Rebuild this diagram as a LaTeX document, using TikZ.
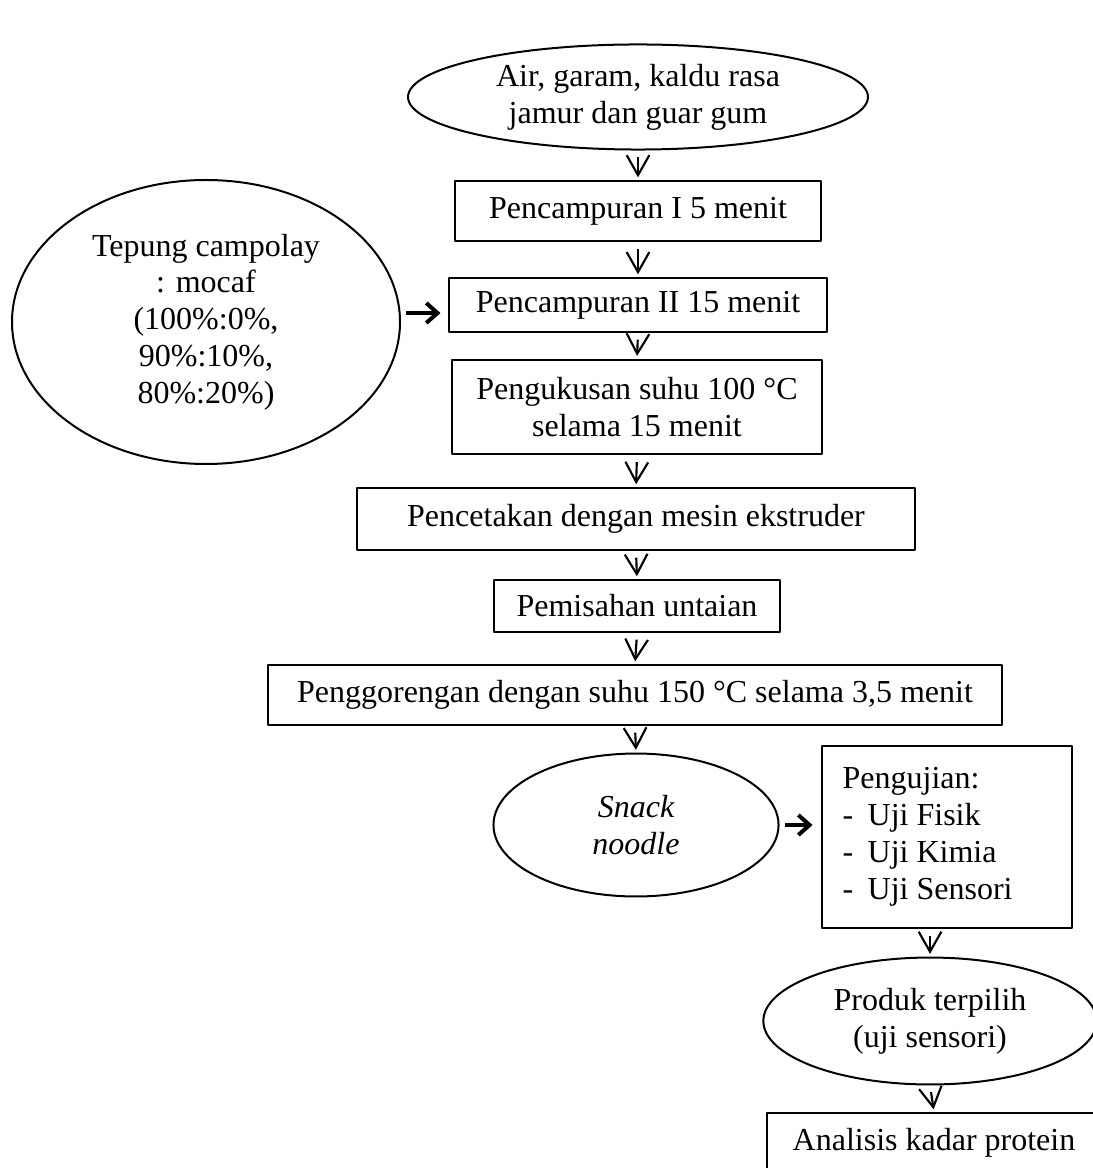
\documentclass[tikz,border=0pt]{standalone}
\usepackage{fontspec}
\setmainfont{Liberation Serif}
\usetikzlibrary{shapes.geometric,arrows.meta}
\tikzset{
  box/.style={draw,line width=.75pt,rectangle,inner sep=0pt,align=center},
  oval/.style={draw,line width=.75pt,ellipse,inner sep=0pt,align=center},
  darr/.style={line width=.8pt,shorten <=2.5pt,shorten >=1pt,-{Straight Barb[length=7.5pt,width=8.5pt]}},
  rarr/.style={line width=1.5pt,shorten <=2pt,shorten >=3pt,-{Straight Barb[length=4.2pt,width=7.5pt]}}
}
\newcommand{\ujiitem}[1]{\makebox[9.4pt][l]{-}#1}
\begin{document}
\begin{tikzpicture}[x=.375pt,y=-.375pt,font=\fontsize{12pt}{13.8pt}\selectfont,line join=round]
  \useasboundingbox (0,0) rectangle (1093,1168);
  \clip (0,0) rectangle (1093,1168);
  % main column
  \node[oval,minimum width=172.5pt,minimum height=39.4pt] (air) at (638,97) {Air, garam, kaldu rasa\\ jamur dan guar gum};
  \node[box,minimum width=137.6pt,minimum height=22.5pt] (p1) at (638,211) {Pencampuran I 5 menit};
  \node[box,minimum width=141.4pt,minimum height=20.3pt] (p2) at (638,305) {Pencampuran II 15 menit};
  \node[box,minimum width=138.8pt,minimum height=35.6pt] (kus) at (637,407) {Pengukusan suhu 100 °C\\ selama 15 menit};
  \node[box,minimum width=209.6pt,minimum height=23.3pt] (cetak) at (636,519) {Pencetakan dengan mesin ekstruder};
  \node[box,minimum width=107.3pt,minimum height=19.5pt] (pisah) at (637,606) {Pemisahan untaian};
  \node[box,minimum width=275.6pt,minimum height=22.5pt] (goreng) at (635,695) {Penggorengan dengan suhu 150 °C selama 3,5 menit};
  \node[oval,minimum width=106.9pt,minimum height=53.6pt] (snack) at (636,825) {\itshape Snack\\ \itshape noodle};
  % side nodes
  \node[oval,minimum width=145.5pt,minimum height=106.5pt] (tepung) at (206,322) {Tepung campolay\\ : mocaf\\ (100\%:0\%,\\ 90\%:10\%,\\ 80\%:20\%)};
  \node[box,align=flush left,text width=78.3pt,inner xsep=7.9pt,minimum height=68.6pt] (uji) at (947,837)
    {Pengujian:\\ \ujiitem{Uji Fisik}\\ \ujiitem{Uji Kimia}\\ \ujiitem{Uji Sensori}};
  \node[oval,minimum width=125pt,minimum height=47.6pt] (produk) at (930,1021) {Produk terpilih\\ (uji sensori)};
  \node[box,minimum width=125pt,minimum height=22.5pt] (protein) at (934,1143) {Analisis kadar protein};
  % arrows
  \foreach \a/\b in {air/p1,p1/p2,p2/kus,kus/cetak,cetak/pisah,pisah/goreng,goreng/snack,produk/protein}
    \draw[darr] (\a.south) -- (\b.north);
  \draw[darr] (produk.north |- uji.south) -- (produk.north);
  \draw[rarr] (tepung.east) ++(0,-9) coordinate (t1) -- (t1 -| p2.west);
  \draw[rarr] (snack.east) -- (snack.east -| uji.west);
\end{tikzpicture}
\end{document}
